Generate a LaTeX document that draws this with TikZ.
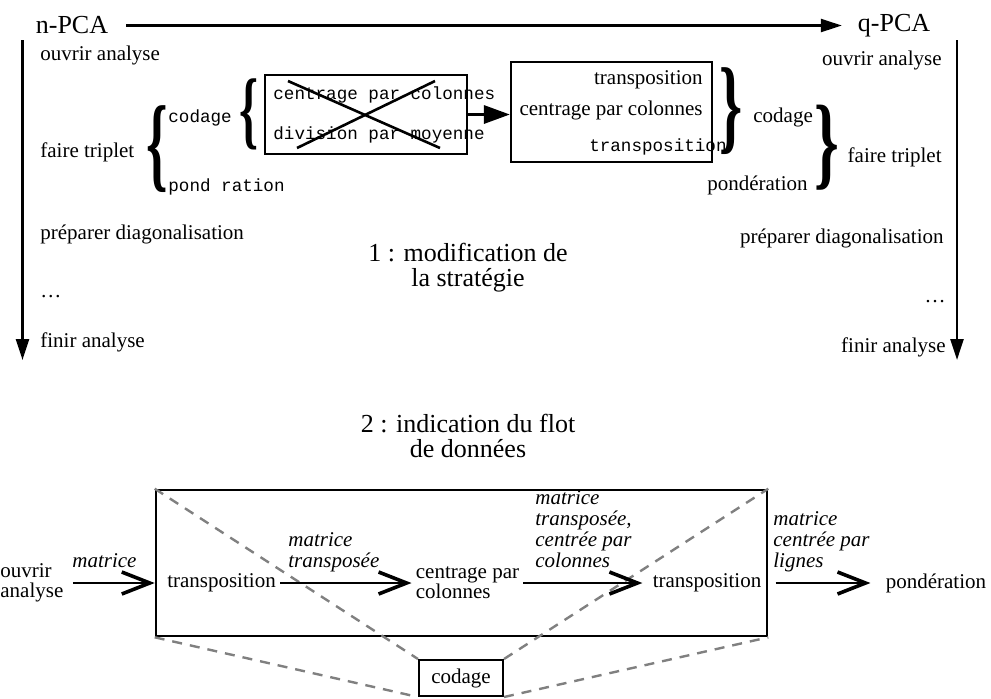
\documentclass[tikz,border=0pt]{standalone}
\usepackage{fontspec}
\setmainfont{Liberation Serif}
\setmonofont{Liberation Mono}
\usepackage{graphicx}
\usetikzlibrary{arrows.meta}

% stretched brace glyph: x factor, y factor, glyph
\newcommand{\accolade}[3]{\scalebox{#1}[#2]{\bfseries #3}}

\begin{document}
\begin{tikzpicture}[x=0.5pt, y=-0.5pt,
      every node/.style={font=\fontsize{10.5}{12}\selectfont},
      titre/.style={font=\fontsize{13}{12.5}\selectfont, align=center},
      liste/.style={inner sep=0pt},
      tt/.style={inner sep=0pt, font=\ttfamily\fontsize{8.8}{10}\selectfont},
      acc/.style={inner sep=0pt},
      lbl/.style={font=\itshape\fontsize{10.5}{10.5}\selectfont, align=left, inner sep=1pt, text depth=0pt, anchor=south west},
      etape/.style={align=left, inner sep=2pt, font=\fontsize{10.5}{10}\selectfont},
      boite/.style={draw, line width=1.1pt, inner sep=0pt},
      axe/.style={draw, line width=1.25pt, -{Triangle[length=10.5pt, width=6.5pt]}},
      fleche/.style={draw, line width=1.6pt, -{Triangle[length=13pt, width=9pt]}},
      flot/.style={draw, line width=1.35pt, -{Straight Barb[length=14pt, width=11pt, line width=1.8pt]}},
      pointille/.style={draw, gray, line width=1.2pt, dash pattern=on 5pt off 4pt},
      barre/.style={line width=1.3pt}]

      \useasboundingbox (0,0) rectangle (991,698);

      % Strategies
      \node [titre] (npca) at (72,25.5) {n-PCA};
      \node [titre] (qpca) at (894,25.5) {q-PCA};
      \draw [axe, shorten <=5.5pt, shorten >=4.5pt] (npca) -- (qpca);

      \coordinate (gdebut) at (22.5,40);
      \coordinate (gfin) at (22.5,360);
      \coordinate (ddebut) at (957,40);
      \coordinate (dfin) at (957,360);
      \draw [axe] (gdebut) -- (gfin);
      \draw [axe] (ddebut) -- (dfin);

      % n-PCA steps
      \node [liste, anchor=west] (og) at (40,55) {ouvrir analyse};
      \node [liste, anchor=west] (fg) at (40,152) {faire triplet};
      \node [liste, anchor=west] (pg) at (40,234) {préparer diagonalisation};
      \node [liste, anchor=west] (dg) at (40,297) {\ldots};
      \node [liste, anchor=west] (fing) at (40,342) {finir analyse};

      \node [acc] (acc1) at (157,149) {\accolade{2.6}{5.0}{\{}};
      \node [tt, anchor=west] (codg) at (168,118) {codage};
      \node [tt, anchor=west] (pondg) at (168,187) {pond ration};
      \node [acc] (acc2) at (249,114.5) {\accolade{2.3}{4.1}{\{}};

      \node [boite, minimum width=101pt, minimum height=39.5pt] (ancien) at (366,114.5) {};
      \node [tt, anchor=west] (anc1) at (273,95) {centrage par colonnes};
      \node [tt, anchor=west] (anc2) at (273,135) {division par moyenne};
      \draw [barre] (288,81) -- (440,148);
      \draw [barre] (297,148) -- (435,81);

      % q-PCA steps
      \node [liste, anchor=east] (od) at (942,60) {ouvrir analyse};
      \node [liste, anchor=east] (fd) at (942,157) {faire triplet};
      \node [liste, anchor=east] (pd) at (944,238) {préparer diagonalisation};
      \node [liste, anchor=east] (dd) at (946,302) {\ldots};
      \node [liste, anchor=east] (find) at (946,347) {finir analyse};

      \node [boite, minimum width=100.5pt, minimum height=50pt] (nouveau) at (611.5,112) {};
      \node [liste, anchor=east] (nv1) at (703,80) {transposition};
      \node [liste, anchor=east] (nv2) at (703,110) {centrage par colonnes};
      \node [tt, anchor=east] (nv3) at (727,147) {transposition};

      \node [acc] (acc3) at (731,111) {\accolade{2.8}{5.0}{\}}};
      \node [liste, anchor=west] (codd) at (753,117) {codage};
      \node [acc] (acc4) at (827,148) {\accolade{3.0}{4.9}{\}}};
      \node [liste, anchor=east] (pondd) at (808,185) {pondération};

      \draw [fleche] (ancien.east) -- (ancien.east -| nouveau.west);

      % Captions
      \node [titre] (strat) at (468,268) {1 : modification de\\la stratégie};
      \node [titre] (flot) at (468,436) {2 : indication du flot\\de données};

      % Data flow
      \node [boite, line width=1.3pt, minimum width=305.5pt, minimum height=73pt] (grand) at (461.5,563) {};
      \node [boite, line width=1pt, minimum width=42pt, minimum height=18pt] (cod) at (461,678) {codage};

      \draw [pointille] (grand.north west) -- (cod.north west);
      \draw [pointille] (grand.south west) -- (cod.south west);
      \draw [pointille] (cod.north east) -- (grand.north east);
      \draw [pointille] (cod.south east) -- (grand.south east);

      \node [etape, inner sep=0pt, anchor=west] (ouvr) at (0,583) {ouvrir\\analyse};
      \node [etape] (tr1) at (221.5,583) {transposition};
      \node [etape, right of=tr1, node distance=123pt] (centr) {centrage par\\colonnes};
      \node [etape, right of=centr, node distance=119.75pt] (tr2) {transposition};
      \node [etape, right of=tr2, node distance=114.5pt] (pond) {pondération};

      \draw [flot, shorten <=4.5pt] (ouvr) -- (ouvr -| grand.west);
      \draw [flot] (tr1) -- (centr);
      \draw [flot, shorten >=3pt] (centr) -- (tr2);
      \draw [flot, shorten <=5pt, shorten >=5.5pt] (tr2) -- (pond);

      \node [lbl] (lbl1) at (70,570) {matrice};
      \node [lbl] (lbl2) at (286,570) {matrice\\transposée};
      \node [lbl] (lbl3) at (533,570) {matrice\\transposée,\\centrée par\\colonnes};
      \node [lbl] (lbl4) at (771,570) {matrice\\centrée par\\lignes};

\end{tikzpicture}
\end{document}
